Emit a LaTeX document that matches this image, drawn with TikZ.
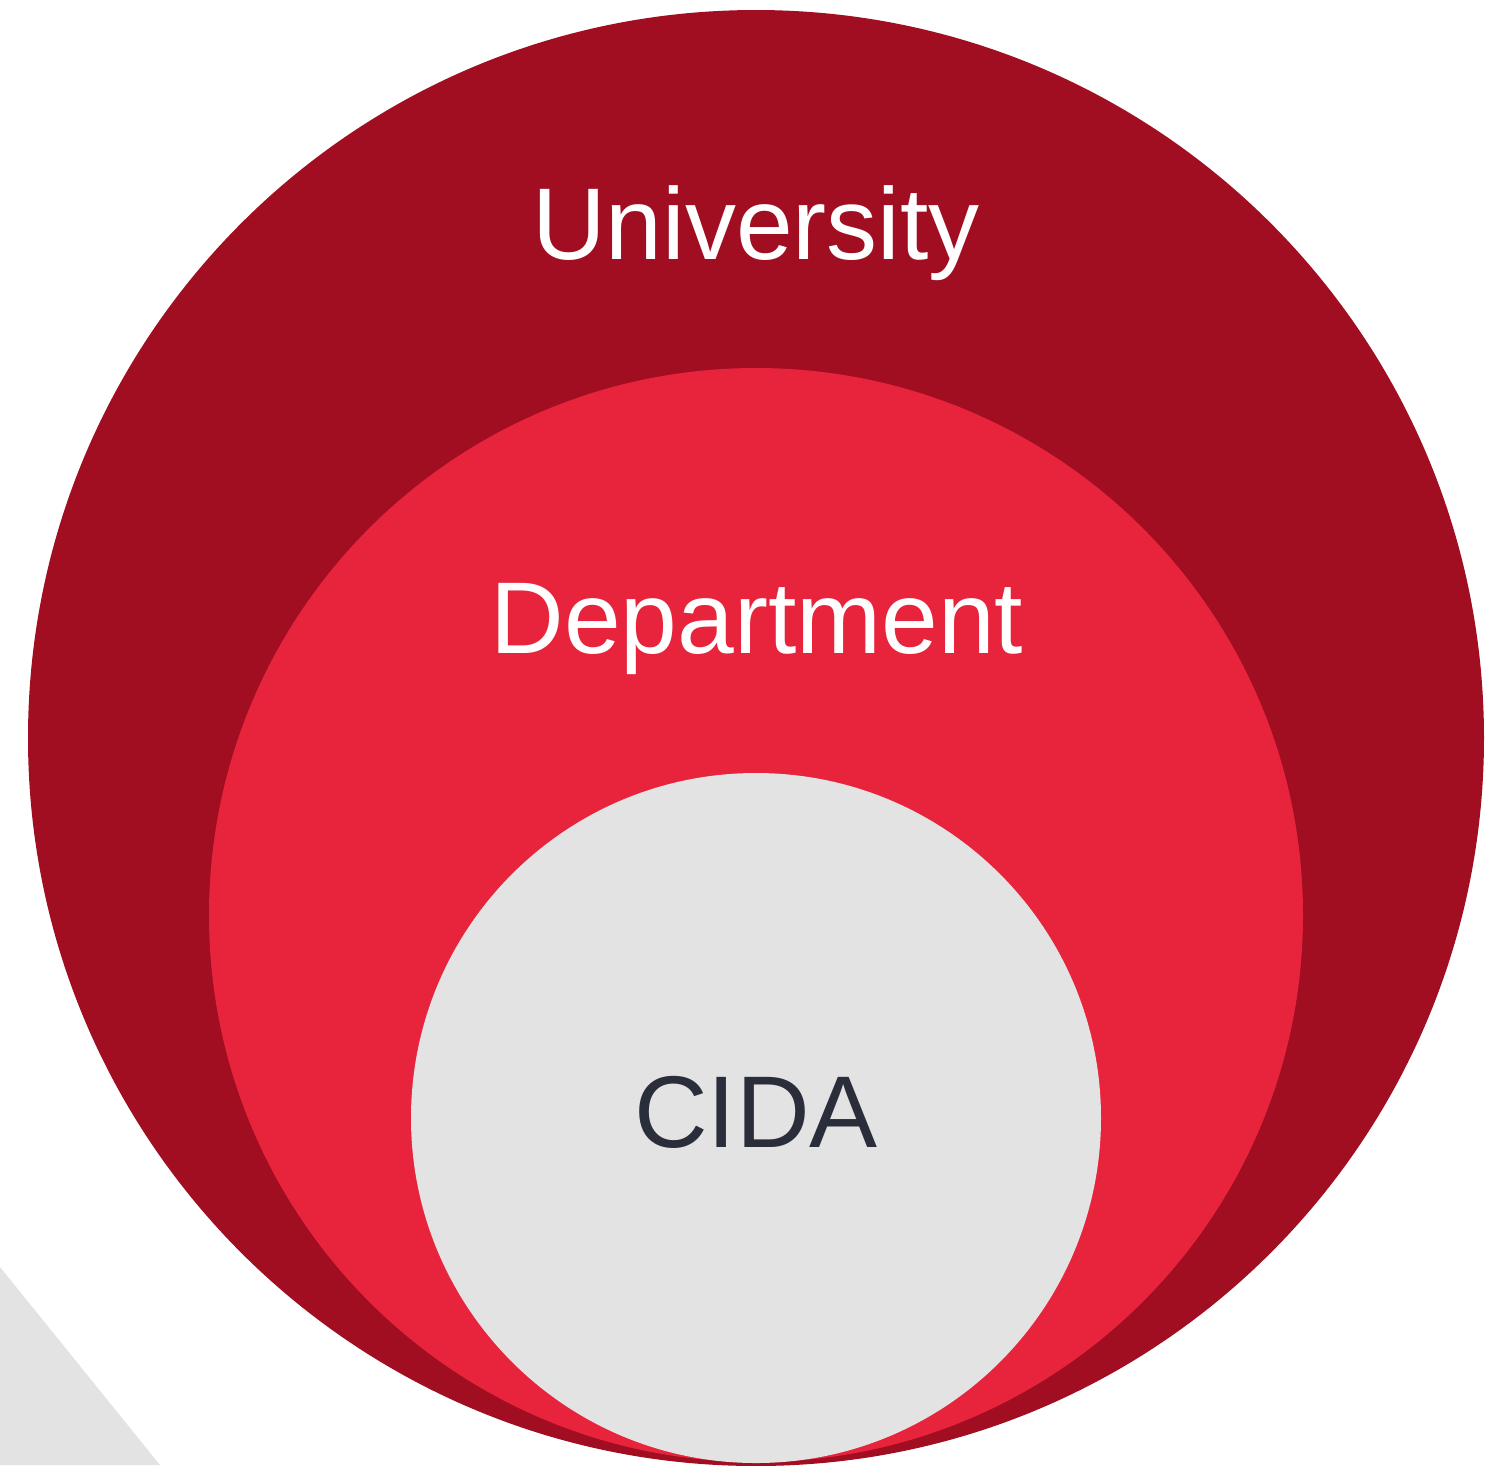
\documentclass[tikz,border=0pt]{standalone}
\usepackage{fontspec}
\setmainfont{Liberation Sans}
\usepackage{tikz}
\usetikzlibrary{positioning}

\definecolor{unired}{HTML}{A10E22}
\definecolor{deptred}{HTML}{E8233C}
\definecolor{cidagrey}{HTML}{E3E3E3}
\definecolor{cidatext}{HTML}{2A2E3A}

\begin{document}
\begin{tikzpicture}[x=0.01cm, y=-0.01cm,
            ringlabel/.style={anchor=base, text=white, font=\fontsize{29}{35}\selectfont},
            corelabel/.style={anchor=base, text=cidatext, font=\fontsize{29}{35}\selectfont},
            ]
            \useasboundingbox (0,0) rectangle (1511,1465);

            %Corner
            \fill[cidagrey] (0,1267) -- (160,1465) -- (0,1465) -- cycle;

            %Circles
            \fill[unired]   (756,738)  circle (728);
            \fill[deptred]  (756,915)  circle (547);
            \fill[cidagrey] (756,1118) circle (345);

            %Nodes
            \node[ringlabel] (university) at (756,259)  {University};
            \node[ringlabel] (department) at (757,653)  {Department};
            \node[corelabel] (cida)       at (756,1147) {CIDA};
          \end{tikzpicture}
\end{document}
